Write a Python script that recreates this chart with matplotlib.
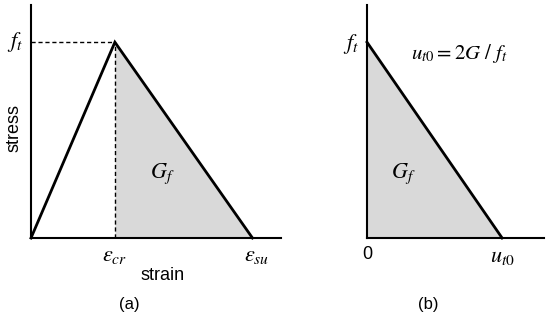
import matplotlib
matplotlib.use("Agg")
import matplotlib.pyplot as plt

plt.rcParams['mathtext.fontset'] = 'stix'
plt.rcParams['font.family'] = ['Liberation Sans', 'DejaVu Sans']

# Panel (a): bilinear tension softening (stress vs strain)
strain_pts = [0.0, 1.0, 2.64]      # 0, eps_cr, eps_su
stress_pts = [0.0, 1.0, 0.0]       # 0, f_t, 0
strain_xlim = 2.98
stress_ylim = 1.19

# Panel (b): linear softening (stress vs displacement)
disp_pts = [0.0, 1.0]              # 0, u_t0
stress_b_pts = [1.0, 0.0]          # f_t, 0
disp_xlim = 1.31

fig = plt.figure(figsize=(5.5, 3.22), dpi=100)

W, H = 550, 322
def ax_rect(x0, x1, ytop, ybot):
    return [x0 / W, 1 - ybot / H, (x1 - x0) / W, (ybot - ytop) / H]

fill_c = '#d9d9d9'
lw = 2.0

# ---- Panel (a)
axa = fig.add_axes(ax_rect(31, 281, 5, 238))
axa.fill_between(strain_pts[1:], stress_pts[1:], 0, color=fill_c, lw=0)
axa.plot(strain_pts, stress_pts, color='black', lw=lw, solid_joinstyle='miter', clip_on=False)
axa.plot([0, strain_pts[1]], [stress_pts[1], stress_pts[1]], color='black', lw=1.0, ls=(0, (3, 2)), clip_on=False)
axa.plot([strain_pts[1], strain_pts[1]], [0, stress_pts[1]], color='black', lw=1.0, ls=(0, (3, 2)), clip_on=False)
axa.set_xlim(0, strain_xlim)
axa.set_ylim(0, stress_ylim)
for s in ['top', 'right']:
    axa.spines[s].set_visible(False)
for s in ['left', 'bottom']:
    axa.spines[s].set_linewidth(1.5)
axa.set_xticks([])
axa.set_yticks([])
axa.patch.set_alpha(0)

axa.text(-0.19, stress_pts[1], r'$f_t$', fontsize=16, ha='center', va='center')
axa.text(strain_pts[1], -0.035, r'$\varepsilon_{cr}$', fontsize=16, ha='center', va='top')
axa.text(strain_pts[2] + 0.05, -0.035, r'$\varepsilon_{su}$', fontsize=16, ha='center', va='top')
axa.text(1.56, 0.33, r'$G_f$', fontsize=16, ha='center', va='center')
axa.text(1.57, -0.15, 'strain', fontsize=13, ha='center', va='top')
axa.text(-0.2, 0.56, 'stress', fontsize=13, ha='center', va='center', rotation=90)
axa.text(1.17, -0.3, '(a)', fontsize=12, ha='center', va='top')

# ---- Panel (b)
axb = fig.add_axes(ax_rect(367, 544, 5, 238))
axb.fill_between(disp_pts, stress_b_pts, 0, color=fill_c, lw=0)
axb.plot(disp_pts, stress_b_pts, color='black', lw=lw, clip_on=False)
axb.set_xlim(0, disp_xlim)
axb.set_ylim(0, stress_ylim)
for s in ['top', 'right']:
    axb.spines[s].set_visible(False)
for s in ['left', 'bottom']:
    axb.spines[s].set_linewidth(1.5)
axb.set_xticks([])
axb.set_yticks([])
axb.patch.set_alpha(0)

axb.text(-0.12, stress_b_pts[0] - 0.01, r'$f_t$', fontsize=16, ha='center', va='center')
axb.text(0.68, 0.94, r'$u_{t0} = 2G\ /\ f_t$', fontsize=15, ha='center', va='center')
axb.text(0.27, 0.33, r'$G_f$', fontsize=16, ha='center', va='center')
axb.text(0.0, -0.04, '0', fontsize=13, ha='center', va='top')
axb.text(disp_pts[1], -0.04, r'$u_{t0}$', fontsize=16, ha='center', va='top')
axb.text(0.45, -0.3, '(b)', fontsize=12, ha='center', va='top')

fig.savefig('out.png', dpi=100)
